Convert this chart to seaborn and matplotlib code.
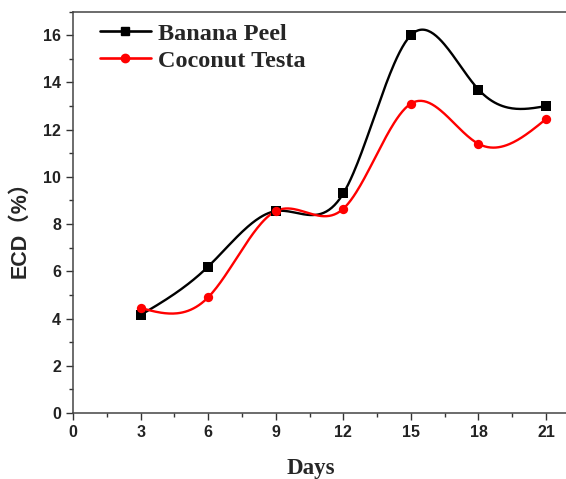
import numpy as np
import pandas as pd
import matplotlib
matplotlib.use('Agg')
import matplotlib.pyplot as plt
from matplotlib.lines import Line2D
from matplotlib.ticker import MultipleLocator
import seaborn as sns

sns.set_theme(style="ticks")
plt.rcParams['font.family'] = ['Liberation Sans', 'Noto Sans CJK SC', 'DejaVu Sans']

# ---- data ----
days = [3, 6, 9, 12, 15, 18, 21]
banana_peel = [4.15, 6.2, 8.55, 9.3, 16.0, 13.7, 13.0]
coconut_testa = [4.45, 4.9, 8.55, 8.65, 13.1, 11.4, 12.45]
series_names = ['Banana Peel', 'Coconut Testa']
series_colors = ['black', 'red']
series_markers = ['s', 'o']


def natural_spline(x, y, n=300):
    # natural cubic spline, just for drawing the smoothed line like Origin does
    x = np.asarray(x, float)
    y = np.asarray(y, float)
    k = len(x)
    h = np.diff(x)
    A = np.zeros((k, k))
    b = np.zeros(k)
    A[0, 0] = A[-1, -1] = 1
    for i in range(1, k - 1):
        A[i, i - 1] = h[i - 1]
        A[i, i] = 2 * (h[i - 1] + h[i])
        A[i, i + 1] = h[i]
        b[i] = 6 * ((y[i + 1] - y[i]) / h[i] - (y[i] - y[i - 1]) / h[i - 1])
    M = np.linalg.solve(A, b)
    xs = np.linspace(x[0], x[-1], n)
    idx = np.clip(np.searchsorted(x, xs) - 1, 0, k - 2)
    x0, x1 = x[idx], x[idx + 1]
    hh = x1 - x0
    t0, t1 = x1 - xs, xs - x0
    ys = (M[idx] * t0 ** 3 + M[idx + 1] * t1 ** 3) / (6 * hh) \
        + (y[idx] / hh - M[idx] * hh / 6) * t0 \
        + (y[idx + 1] / hh - M[idx + 1] * hh / 6) * t1
    return xs, ys


fig = plt.figure(figsize=(5.66, 4.79), dpi=100)
ax = fig.add_axes([0.129, 0.1378, 0.8755, 0.838])

handles = []
for name, vals, col, mk in zip(series_names, [banana_peel, coconut_testa],
                               series_colors, series_markers):
    xs, ys = natural_spline(days, vals)
    smooth = pd.DataFrame({'Days': xs, 'ECD': ys})
    pts = pd.DataFrame({'Days': days, 'ECD': vals})
    sns.lineplot(data=smooth, x='Days', y='ECD', color=col, linewidth=1.7, ax=ax)
    sns.scatterplot(data=pts, x='Days', y='ECD', color=col, marker=mk, s=45,
                    edgecolor=col, linewidth=0, zorder=3, ax=ax)
    handles.append(Line2D([], [], color=col, marker=mk, markersize=6, linewidth=1.9))

ax.set_xlim(0, 22)
ax.set_ylim(0, 17)
ax.xaxis.set_major_locator(MultipleLocator(3))
ax.xaxis.set_minor_locator(MultipleLocator(1.5))
ax.yaxis.set_major_locator(MultipleLocator(2))
ax.yaxis.set_minor_locator(MultipleLocator(1))
ax.set_xticks([0, 3, 6, 9, 12, 15, 18, 21])
ax.tick_params(which='major', direction='out', length=5, width=1, labelsize=11.5, colors='#333333')
ax.tick_params(which='minor', direction='out', length=3, width=1, colors='#333333')
for lab in ax.get_xticklabels() + ax.get_yticklabels():
    lab.set_fontweight('bold')
    lab.set_color('#222222')
for side in ['left', 'bottom', 'top', 'right']:
    ax.spines[side].set_color('#444444')
    ax.spines[side].set_linewidth(1.1)

ax.set_xlabel('Days', family=['Liberation Serif'], fontweight='bold', fontsize=16.5)
ax.xaxis.set_label_coords(0.48, -0.112)
ax.set_ylabel('ECD（%）', fontweight='bold', fontsize=15.5)
ax.yaxis.set_label_coords(-0.086, 0.47)

leg = ax.legend(handles, series_names, loc='upper left', bbox_to_anchor=(0.054, 0.972),
                frameon=False, handlelength=2.1, handletextpad=0.3, labelspacing=0.2,
                borderpad=0, borderaxespad=0,
                prop={'family': 'Liberation Serif', 'weight': 'bold', 'size': 17.5})

fig.savefig('out.png', dpi=100)
